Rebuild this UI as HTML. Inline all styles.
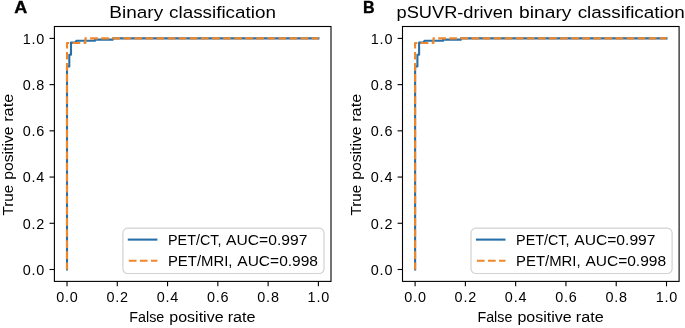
<!DOCTYPE html>
<html><head><meta charset="utf-8"><style>
html,body{margin:0;padding:0;background:#fff;}
svg{display:block;will-change:transform;}
text{font-family:"Liberation Sans",sans-serif;fill:#000;}
.tk{font-size:14.4px;}
.lg{font-size:14.8px;}
.lb{font-size:14.9px;}
.tt{font-size:17.2px;}
.pl{font-size:16.1px;font-weight:bold;stroke:#000;stroke-width:0.35px;}
</style></head><body>
<svg width="685" height="328" viewBox="0 0 685 328">
<rect width="685" height="328" fill="#fff"/>
<polyline points="67.00,269.50 67.00,66.40 69.30,66.40 69.30,54.70 71.00,54.70 71.00,42.60 75.00,42.60 76.60,40.70 95.00,40.70 95.00,39.60 113.00,39.60 113.00,38.40 318.40,38.40" fill="none" stroke="#286fa7" stroke-width="2.1" stroke-linecap="square" stroke-linejoin="round"/>
<polyline points="67.00,269.50 67.00,43.00 85.40,43.00 85.40,38.40 318.40,38.40" fill="none" stroke="#f0872a" stroke-width="2.1" stroke-dasharray="7.7 3.38" stroke-dashoffset="0.6" stroke-linejoin="round"/>
<rect x="54.4" y="26.5" width="276.60" height="254.90" fill="none" stroke="#000" stroke-width="1.1"/>
<line x1="49.50" y1="269.50" x2="54.4" y2="269.50" stroke="#000" stroke-width="1.1"/>
<line x1="67.00" y1="281.4" x2="67.00" y2="286.30" stroke="#000" stroke-width="1.1"/>
<text x="44.30" y="275" text-anchor="end" class="tk" textLength="21.6" lengthAdjust="spacing">0.0</text>
<text x="67.00" y="302.2" text-anchor="middle" class="tk" textLength="21.6" lengthAdjust="spacing">0.0</text>
<line x1="49.50" y1="223.28" x2="54.4" y2="223.28" stroke="#000" stroke-width="1.1"/>
<line x1="117.28" y1="281.4" x2="117.28" y2="286.30" stroke="#000" stroke-width="1.1"/>
<text x="44.30" y="229" text-anchor="end" class="tk" textLength="21.6" lengthAdjust="spacing">0.2</text>
<text x="117.28" y="302.2" text-anchor="middle" class="tk" textLength="21.6" lengthAdjust="spacing">0.2</text>
<line x1="49.50" y1="177.06" x2="54.4" y2="177.06" stroke="#000" stroke-width="1.1"/>
<line x1="167.56" y1="281.4" x2="167.56" y2="286.30" stroke="#000" stroke-width="1.1"/>
<text x="44.30" y="182" text-anchor="end" class="tk" textLength="21.6" lengthAdjust="spacing">0.4</text>
<text x="167.56" y="302.2" text-anchor="middle" class="tk" textLength="21.6" lengthAdjust="spacing">0.4</text>
<line x1="49.50" y1="130.84" x2="54.4" y2="130.84" stroke="#000" stroke-width="1.1"/>
<line x1="217.84" y1="281.4" x2="217.84" y2="286.30" stroke="#000" stroke-width="1.1"/>
<text x="44.30" y="136" text-anchor="end" class="tk" textLength="21.6" lengthAdjust="spacing">0.6</text>
<text x="217.84" y="302.2" text-anchor="middle" class="tk" textLength="21.6" lengthAdjust="spacing">0.6</text>
<line x1="49.50" y1="84.62" x2="54.4" y2="84.62" stroke="#000" stroke-width="1.1"/>
<line x1="268.12" y1="281.4" x2="268.12" y2="286.30" stroke="#000" stroke-width="1.1"/>
<text x="44.30" y="90" text-anchor="end" class="tk" textLength="21.6" lengthAdjust="spacing">0.8</text>
<text x="268.12" y="302.2" text-anchor="middle" class="tk" textLength="21.6" lengthAdjust="spacing">0.8</text>
<line x1="49.50" y1="38.40" x2="54.4" y2="38.40" stroke="#000" stroke-width="1.1"/>
<line x1="318.40" y1="281.4" x2="318.40" y2="286.30" stroke="#000" stroke-width="1.1"/>
<text x="44.30" y="44" text-anchor="end" class="tk" textLength="21.6" lengthAdjust="spacing">1.0</text>
<text x="318.40" y="302.2" text-anchor="middle" class="tk" textLength="21.6" lengthAdjust="spacing">1.0</text>
<rect x="122.90" y="228.2" width="201.10" height="45.30" rx="4.8" fill="#fff" fill-opacity="0.8" stroke="#d2d2d2" stroke-width="1.2"/>
<line x1="127.80" y1="239.6" x2="157.40" y2="239.6" stroke="#286fa7" stroke-width="2.1"/>
<line x1="128.80" y1="260.8" x2="157.40" y2="260.8" stroke="#f0872a" stroke-width="2.1" stroke-dasharray="7.7 3.38"/>
<g transform="translate(12.90,0) rotate(-90)"><text x="-215.45" y="0" class="lb" textLength="30.61" lengthAdjust="spacingAndGlyphs">True</text><text x="-179.86" y="0" class="lb" textLength="53.38" lengthAdjust="spacingAndGlyphs">positive</text><text x="-121.80" y="0" class="lb" textLength="28.03" lengthAdjust="spacingAndGlyphs">rate</text></g>
<polyline points="415.10,269.50 415.10,66.40 417.40,66.40 417.40,54.70 419.10,54.70 419.10,42.60 423.10,42.60 424.70,40.70 443.10,40.70 443.10,39.60 461.10,39.60 461.10,38.40 666.50,38.40" fill="none" stroke="#286fa7" stroke-width="2.1" stroke-linecap="square" stroke-linejoin="round"/>
<polyline points="415.10,269.50 415.10,43.00 433.50,43.00 433.50,38.40 666.50,38.40" fill="none" stroke="#f0872a" stroke-width="2.1" stroke-dasharray="7.7 3.38" stroke-dashoffset="0.6" stroke-linejoin="round"/>
<rect x="402.5" y="26.5" width="276.60" height="254.90" fill="none" stroke="#000" stroke-width="1.1"/>
<line x1="397.60" y1="269.50" x2="402.5" y2="269.50" stroke="#000" stroke-width="1.1"/>
<line x1="415.10" y1="281.4" x2="415.10" y2="286.30" stroke="#000" stroke-width="1.1"/>
<text x="392.40" y="275" text-anchor="end" class="tk" textLength="21.6" lengthAdjust="spacing">0.0</text>
<text x="415.10" y="302.2" text-anchor="middle" class="tk" textLength="21.6" lengthAdjust="spacing">0.0</text>
<line x1="397.60" y1="223.28" x2="402.5" y2="223.28" stroke="#000" stroke-width="1.1"/>
<line x1="465.38" y1="281.4" x2="465.38" y2="286.30" stroke="#000" stroke-width="1.1"/>
<text x="392.40" y="229" text-anchor="end" class="tk" textLength="21.6" lengthAdjust="spacing">0.2</text>
<text x="465.38" y="302.2" text-anchor="middle" class="tk" textLength="21.6" lengthAdjust="spacing">0.2</text>
<line x1="397.60" y1="177.06" x2="402.5" y2="177.06" stroke="#000" stroke-width="1.1"/>
<line x1="515.66" y1="281.4" x2="515.66" y2="286.30" stroke="#000" stroke-width="1.1"/>
<text x="392.40" y="182" text-anchor="end" class="tk" textLength="21.6" lengthAdjust="spacing">0.4</text>
<text x="515.66" y="302.2" text-anchor="middle" class="tk" textLength="21.6" lengthAdjust="spacing">0.4</text>
<line x1="397.60" y1="130.84" x2="402.5" y2="130.84" stroke="#000" stroke-width="1.1"/>
<line x1="565.94" y1="281.4" x2="565.94" y2="286.30" stroke="#000" stroke-width="1.1"/>
<text x="392.40" y="136" text-anchor="end" class="tk" textLength="21.6" lengthAdjust="spacing">0.6</text>
<text x="565.94" y="302.2" text-anchor="middle" class="tk" textLength="21.6" lengthAdjust="spacing">0.6</text>
<line x1="397.60" y1="84.62" x2="402.5" y2="84.62" stroke="#000" stroke-width="1.1"/>
<line x1="616.22" y1="281.4" x2="616.22" y2="286.30" stroke="#000" stroke-width="1.1"/>
<text x="392.40" y="90" text-anchor="end" class="tk" textLength="21.6" lengthAdjust="spacing">0.8</text>
<text x="616.22" y="302.2" text-anchor="middle" class="tk" textLength="21.6" lengthAdjust="spacing">0.8</text>
<line x1="397.60" y1="38.40" x2="402.5" y2="38.40" stroke="#000" stroke-width="1.1"/>
<line x1="666.50" y1="281.4" x2="666.50" y2="286.30" stroke="#000" stroke-width="1.1"/>
<text x="392.40" y="44" text-anchor="end" class="tk" textLength="21.6" lengthAdjust="spacing">1.0</text>
<text x="666.50" y="302.2" text-anchor="middle" class="tk" textLength="21.6" lengthAdjust="spacing">1.0</text>
<rect x="471.00" y="228.2" width="201.10" height="45.30" rx="4.8" fill="#fff" fill-opacity="0.8" stroke="#d2d2d2" stroke-width="1.2"/>
<line x1="475.90" y1="239.6" x2="505.50" y2="239.6" stroke="#286fa7" stroke-width="2.1"/>
<line x1="476.90" y1="260.8" x2="505.50" y2="260.8" stroke="#f0872a" stroke-width="2.1" stroke-dasharray="7.7 3.38"/>
<g transform="translate(361.00,0) rotate(-90)"><text x="-215.45" y="0" class="lb" textLength="30.61" lengthAdjust="spacingAndGlyphs">True</text><text x="-179.86" y="0" class="lb" textLength="53.38" lengthAdjust="spacingAndGlyphs">positive</text><text x="-121.80" y="0" class="lb" textLength="28.03" lengthAdjust="spacingAndGlyphs">rate</text></g>
<text x="109.38" y="18.25" class="tt" textLength="53.81" lengthAdjust="spacingAndGlyphs">Binary</text>
<text x="169.06" y="18.25" class="tt" textLength="106.85" lengthAdjust="spacingAndGlyphs">classification</text>
<text x="396.57" y="18.25" class="tt" textLength="116.38" lengthAdjust="spacingAndGlyphs">pSUVR-driven</text>
<text x="518.99" y="18.25" class="tt" textLength="52.45" lengthAdjust="spacingAndGlyphs">binary</text>
<text x="577.65" y="18.25" class="tt" textLength="107.15" lengthAdjust="spacingAndGlyphs">classification</text>
<text x="129.31" y="321.8" class="lb" textLength="34.98" lengthAdjust="spacingAndGlyphs">False</text>
<text x="169.33" y="321.8" class="lb" textLength="54.21" lengthAdjust="spacingAndGlyphs">positive</text>
<text x="227.70" y="321.8" class="lb" textLength="27.93" lengthAdjust="spacingAndGlyphs">rate</text>
<text x="168.00" y="244.9" class="lg" textLength="53.40" lengthAdjust="spacingAndGlyphs">PET/CT,</text>
<text x="226.12" y="244.9" class="lg" textLength="81.25" lengthAdjust="spacingAndGlyphs">AUC=0.997</text>
<text x="167.95" y="266.1" class="lg" textLength="64.52" lengthAdjust="spacingAndGlyphs">PET/MRI,</text>
<text x="237.32" y="266.1" class="lg" textLength="80.66" lengthAdjust="spacingAndGlyphs">AUC=0.998</text>
<text x="477.41" y="321.8" class="lb" textLength="34.98" lengthAdjust="spacingAndGlyphs">False</text>
<text x="517.43" y="321.8" class="lb" textLength="54.21" lengthAdjust="spacingAndGlyphs">positive</text>
<text x="575.80" y="321.8" class="lb" textLength="27.93" lengthAdjust="spacingAndGlyphs">rate</text>
<text x="516.10" y="244.9" class="lg" textLength="53.40" lengthAdjust="spacingAndGlyphs">PET/CT,</text>
<text x="574.22" y="244.9" class="lg" textLength="81.25" lengthAdjust="spacingAndGlyphs">AUC=0.997</text>
<text x="516.05" y="266.1" class="lg" textLength="64.52" lengthAdjust="spacingAndGlyphs">PET/MRI,</text>
<text x="585.42" y="266.1" class="lg" textLength="80.66" lengthAdjust="spacingAndGlyphs">AUC=0.998</text>
<text x="14.2" y="13.35" class="pl" textLength="13.0" lengthAdjust="spacingAndGlyphs">A</text>
<text x="363.1" y="13.3" class="pl">B</text>
</svg>
</body></html>
